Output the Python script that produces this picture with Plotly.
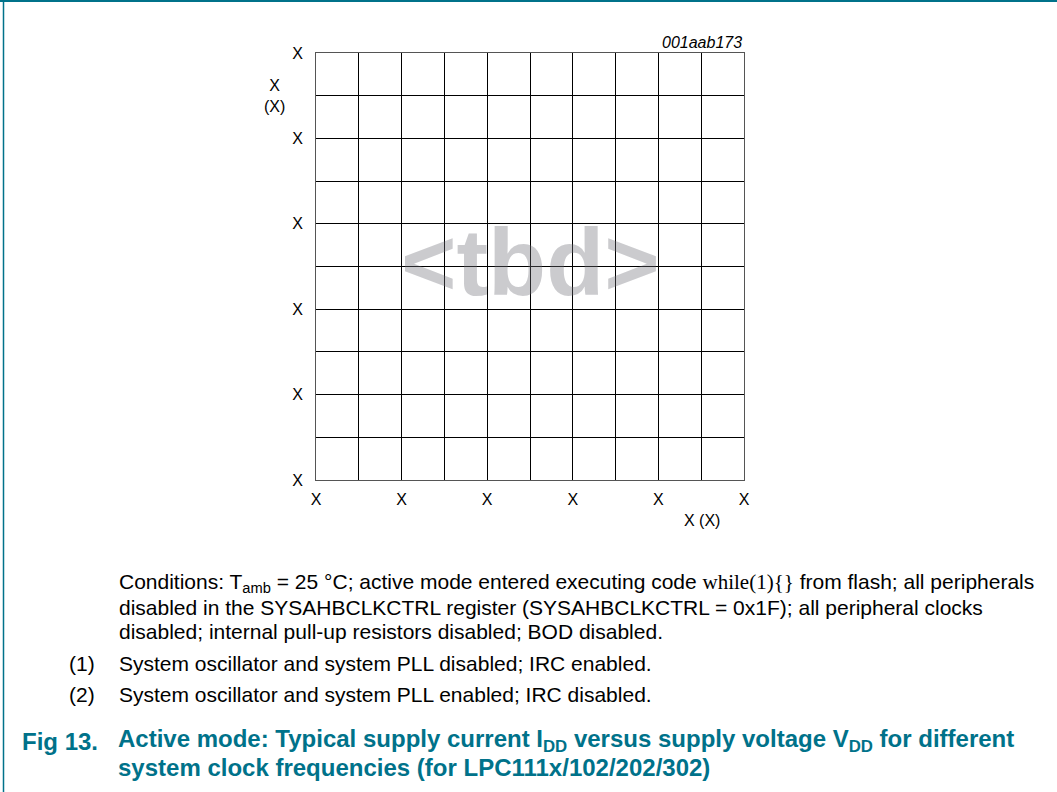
import plotly.graph_objects as go

# ---- data (tick values / labels) ----
x_grid = [0, 1, 2, 3, 4, 5, 6, 7, 8, 9, 10]
x_tick_labels = ["X", "", "X", "", "X", "", "X", "", "X", "", "X"]
y_grid = [0, 1, 2, 3, 4, 5, 6, 7, 8, 9, 10]
y_tick_labels = ["X", "", "X", "", "X", "", "X", "", "X", "", "X"]
x_title = "X (X)"
y_title = "X<br>(X)"
figure_id = "001aab173"
watermark = "&lt;tbd&gt;"

W, H = 1057, 792
L, R, T, B = 316, 744, 53, 480
TEAL = "#00728a"
FONT = "Liberation Sans, Arial, sans-serif"
BODY = 21
CAP = 24


def px(x):
    return (x - L) / (R - L)


def py(y):
    return (B - y) / (B - T)


fig = go.Figure()
fig.add_trace(go.Scatter(x=[], y=[], mode="lines", showlegend=False))

axis_common = dict(
    showgrid=True, gridcolor="#000000", gridwidth=1,
    showline=True, linecolor="#555555", linewidth=1, mirror=True,
    zeroline=False, ticks="outside", tickcolor="rgba(0,0,0,0)",
    tickfont=dict(family=FONT, size=16, color="#000000"),
    fixedrange=True,
)
fig.update_xaxes(range=[0, 10], tickmode="array", tickvals=x_grid,
                 ticktext=x_tick_labels, ticklen=5, **axis_common)
fig.update_yaxes(range=[0, 10], tickmode="array", tickvals=y_grid,
                 ticktext=y_tick_labels, ticklen=9, **axis_common)

ann = []
# axis titles
ann.append(dict(x=px(274), y=py(96), xref="paper", yref="paper", text=y_title,
                showarrow=False, xanchor="center", yanchor="middle", align="center",
                font=dict(family=FONT, size=16, color="#000")))
ann.append(dict(x=px(702), y=py(520), xref="paper", yref="paper", text=x_title,
                showarrow=False, xanchor="center", yanchor="middle",
                font=dict(family=FONT, size=16, color="#000")))
# figure id
ann.append(dict(x=1, y=py(43), xref="paper", yref="paper", text="<i>" + figure_id + "</i>",
                showarrow=False, xanchor="right", yanchor="middle",
                font=dict(family=FONT, size=16, color="#000")))
# watermark (semi-transparent so the grid shows through, as in the reference)
ann.append(dict(x=px(530), y=py(262), xref="paper", yref="paper", text="<b>" + watermark + "</b>",
                showarrow=False, xanchor="center", yanchor="middle",
                font=dict(family=FONT, size=95, color="rgba(110,110,118,0.36)")))

# caption body
body = [
    ("Conditions: T<sub>amb</sub> = 25 °C; active mode entered executing code "
     "<span style='font-family:Liberation Serif'>while(1){}</span> from flash; all peripherals", 583),
    ("disabled in the SYSAHBCLKCTRL register (SYSAHBCLKCTRL = 0x1F); all peripheral clocks", 607),
    ("disabled; internal pull-up resistors disabled; BOD disabled.", 631),
]
for txt, yy in body:
    ann.append(dict(x=px(117), y=py(yy), xref="paper", yref="paper", text=txt,
                    showarrow=False, xanchor="left", yanchor="middle",
                    font=dict(family=FONT, size=BODY, color="#000")))

notes = [
    ("(1)", "System oscillator and system PLL disabled; IRC enabled.", 663),
    ("(2)", "System oscillator and system PLL enabled; IRC disabled.", 694),
]
for num, txt, yy in notes:
    ann.append(dict(x=px(97), y=py(yy), xref="paper", yref="paper", text=num,
                    showarrow=False, xanchor="right", yanchor="middle",
                    font=dict(family=FONT, size=BODY, color="#000")))
    ann.append(dict(x=px(117), y=py(yy), xref="paper", yref="paper", text=txt,
                    showarrow=False, xanchor="left", yanchor="middle",
                    font=dict(family=FONT, size=BODY, color="#000")))

ann.append(dict(x=px(20), y=py(741), xref="paper", yref="paper", text="<b>Fig 13.</b>",
                showarrow=False, xanchor="left", yanchor="middle",
                font=dict(family=FONT, size=CAP, color=TEAL)))
cap = [
    ("<b>Active mode: Typical supply current I<sub>DD</sub> versus supply voltage "
     "V<sub>DD</sub> for different</b>", 740),
    ("<b>system clock frequencies (for LPC111x/102/202/302)</b>", 767),
]
for txt, yy in cap:
    ann.append(dict(x=px(116), y=py(yy), xref="paper", yref="paper", text=txt,
                    showarrow=False, xanchor="left", yanchor="middle",
                    font=dict(family=FONT, size=CAP, color=TEAL)))

shapes = [
    dict(type="line", xref="paper", yref="paper", x0=px(0), x1=px(W), y0=py(1), y1=py(1),
         line=dict(color=TEAL, width=2)),
    dict(type="line", xref="paper", yref="paper", x0=px(3.5), x1=px(3.5), y0=py(0), y1=py(H),
         line=dict(color=TEAL, width=1.5)),
]

fig.update_layout(
    width=W, height=H, autosize=False,
    margin=dict(l=L, r=W - R, t=T, b=H - B, pad=0),
    paper_bgcolor="white", plot_bgcolor="white",
    annotations=ann, shapes=shapes, showlegend=False,
    font=dict(family=FONT),
)
fig.write_html("out.html", config={"displayModeBar": False},
               post_script="document.body.style.margin='0';")
